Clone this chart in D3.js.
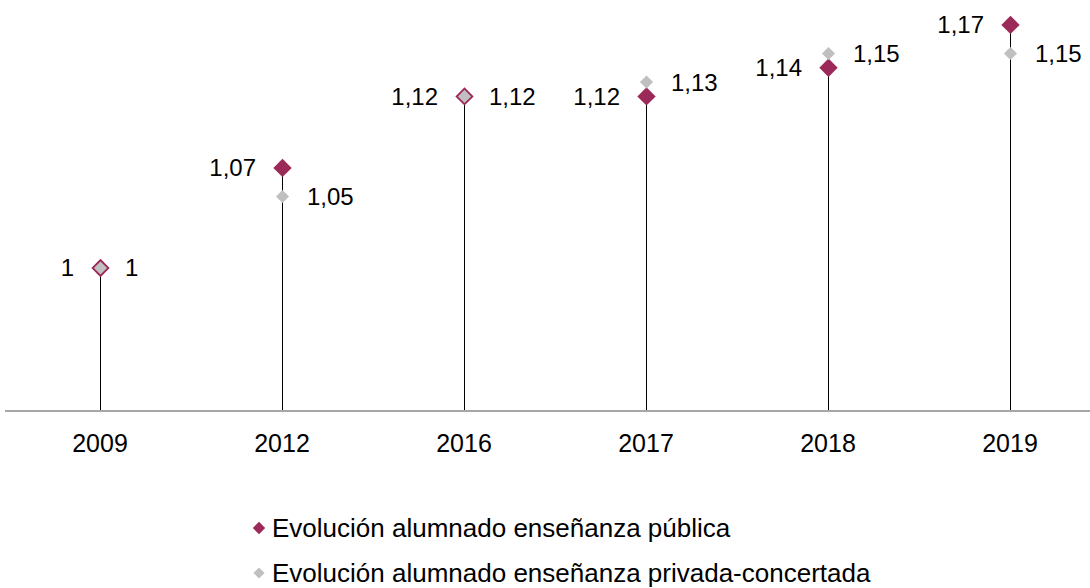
<!DOCTYPE html>
<html lang="es">
<head>
<meta charset="UTF-8">
<title>Evolución alumnado</title>
<script src="https://d3js.org/d3.v7.min.js"></script>
<style>
    body { margin: 0; background: #fff; }
    text { font-family: "Liberation Sans", Arial, sans-serif; fill: #000; }
</style>
</head>
<body>
<script>
    // Data
    const years = ["2009", "2012", "2016", "2017", "2018", "2019"];
    const publica = [1, 1.07, 1.12, 1.12, 1.14, 1.17];
    const privada = [1, 1.05, 1.12, 1.13, 1.15, 1.15];
    const seriesNames = ["Evolución alumnado enseñanza pública", "Evolución alumnado enseñanza privada-concertada"];

    const width = 1090, height = 588;
    const maroon = "#9c2a59", grey = "#c0c0c0";
    const fmt = v => String(v).replace(".", ",");

    const svg = d3.select("body").append("svg")
        .attr("width", width)
        .attr("height", height);

    const x = d3.scaleBand().domain(years).range([9, 1101]);
    const y = d3.scaleLinear().domain([0.9, 1.2]).range([411, -18]);
    const cx = d => x(d) + x.bandwidth() / 2;

    // drop lines (from the público series)
    svg.append("g").selectAll("line")
        .data(years)
        .enter().append("line")
        .attr("x1", d => cx(d) + 0.5).attr("x2", d => cx(d) + 0.5)
        .attr("y1", y(0.9))
        .attr("y2", (d, i) => y(publica[i]))
        .attr("stroke", "#000")
        .attr("stroke-width", 1);

    // axis
    const axis = svg.append("g")
        .attr("transform", `translate(0,${y(0.9)})`)
        .call(d3.axisBottom(x).tickSize(0).tickPadding(0));
    axis.select(".domain").remove();
    axis.append("line")
        .attr("x1", 5).attr("x2", width)
        .attr("stroke", "#a6a6a6").attr("stroke-width", 2);
    axis.selectAll(".tick text")
        .attr("y", 41).attr("dy", null)
        .attr("font-size", 25)
        .attr("font-family", "Liberation Sans, Arial, sans-serif")
        .attr("fill", "#000");

    const diamond = s => d3.symbol().type(d3.symbolDiamond2).size(s);

    // público markers
    svg.append("g").selectAll("path")
        .data(years)
        .enter().append("path")
        .attr("d", diamond(215))
        .attr("transform", (d, i) => `translate(${cx(d) + 0.5},${y(publica[i])})`)
        .attr("fill", maroon);

    // privada markers
    svg.append("g").selectAll("path")
        .data(years)
        .enter().append("path")
        .attr("d", diamond(110))
        .attr("transform", (d, i) => `translate(${cx(d) + 0.5},${y(privada[i])})`)
        .attr("fill", grey);

    // labels
    svg.append("g").selectAll("text")
        .data(years)
        .enter().append("text")
        .attr("x", d => cx(d) - 26)
        .attr("y", (d, i) => y(publica[i]))
        .attr("dy", "0.35em")
        .attr("text-anchor", "end")
        .attr("font-size", 24)
        .text((d, i) => fmt(publica[i]));

    svg.append("g").selectAll("text")
        .data(years)
        .enter().append("text")
        .attr("x", d => cx(d) + 25)
        .attr("y", (d, i) => y(privada[i]))
        .attr("dy", "0.35em")
        .attr("font-size", 24)
        .text((d, i) => fmt(privada[i]));

    // legend
    const legend = svg.append("g").selectAll("g")
        .data(seriesNames)
        .enter().append("g")
        .attr("transform", (d, i) => `translate(259,${528 + i * 45})`);
    legend.append("path")
        .attr("d", (d, i) => diamond(i === 0 ? 98 : 80)())
        .attr("fill", (d, i) => i === 0 ? maroon : grey);
    legend.append("text")
        .attr("x", 13)
        .attr("dy", "0.35em")
        .attr("font-size", 26)
        .text(d => d);
</script>
</body>
</html>
